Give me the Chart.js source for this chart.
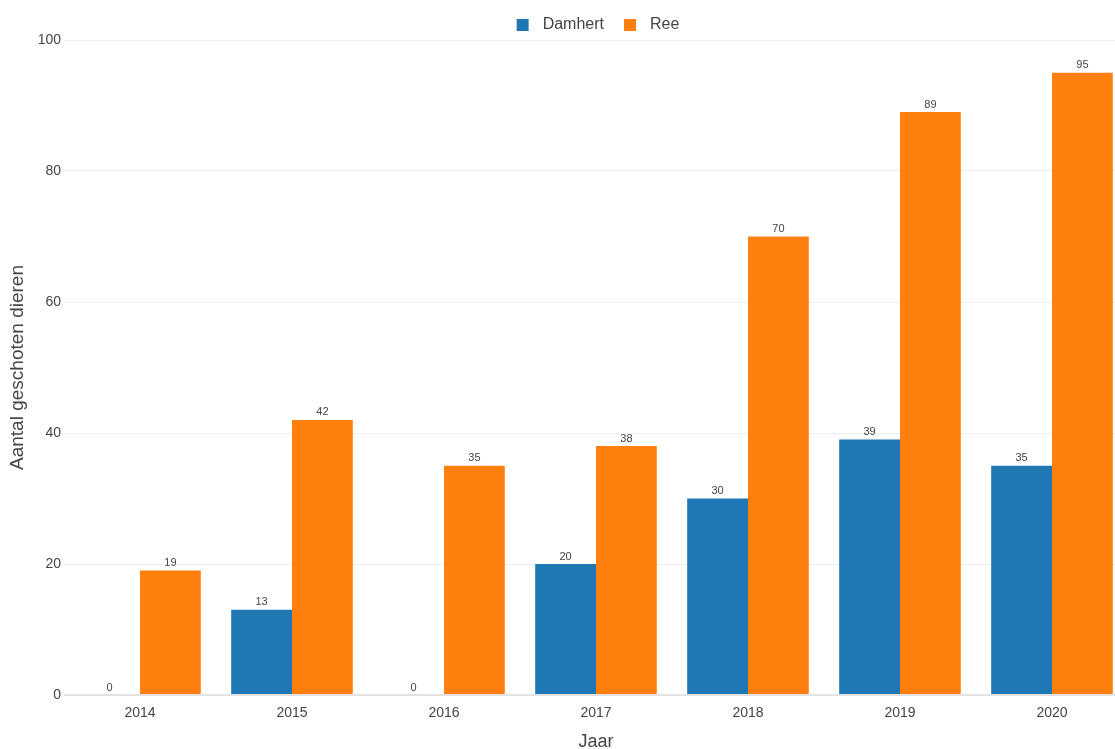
<!DOCTYPE html>
<html>
<head>
<meta charset="utf-8">
<script src="https://cdn.jsdelivr.net/npm/chart.js@4.4.1/dist/chart.umd.min.js"></script>
<style>
  html, body { margin: 0; padding: 0; background: #fff; overflow: hidden; }
  /* plot area runs past the right edge of the window, as in the reference */
  #wrap { width: 1128px; height: 749px; position: relative; }
</style>
</head>
<body>
<div id="wrap"><canvas id="jacht-chart"></canvas></div>
<script>
// data
const jaren = ['2014', '2015', '2016', '2017', '2018', '2019', '2020'];
const damhert = [0, 13, 0, 20, 30, 39, 35];
const ree = [19, 42, 35, 38, 70, 89, 95];
const yTicks = [0, 20, 40, 60, 80, 100];
const kleuren = ['#1f77b4', '#ff7f0e'];

const FONT = '"Liberation Sans", Arial, sans-serif';
const TEXT = '#444';

// value labels above every bar
const barLabels = {
  id: 'barLabels',
  afterDatasetsDraw(chart) {
    const ctx = chart.ctx;
    ctx.save();
    ctx.font = '11px ' + FONT;
    ctx.fillStyle = TEXT;
    ctx.textAlign = 'center';
    ctx.textBaseline = 'bottom';
    chart.data.datasets.forEach((ds, i) => {
      chart.getDatasetMeta(i).data.forEach((bar, j) => {
        ctx.fillText(ds.data[j], bar.x, bar.y - 2);
      });
    });
    ctx.restore();
  }
};

// legend: centred over the plot, wider spacing, small squares
const legendTweak = {
  id: 'legendTweak',
  afterInit(chart) {
    const legend = chart.legend;
    const fit = legend.fit.bind(legend);
    legend.fit = function () { fit(); this.height = 36; };
  },
  afterLayout(chart) {
    const legend = chart.legend;
    const dx = chart.chartArea.left / 2 + 2;
    const dy = -7;
    legend.left = chart.chartArea.left + 4;
    legend.top += dy;
    legend.legendHitBoxes.forEach(hb => { hb.left += dx; hb.top += dy; });
  },
  afterDraw(chart) {
    const ctx = chart.ctx;
    ctx.save();
    chart.legend.legendHitBoxes.forEach((hb, i) => {
      ctx.fillStyle = kleuren[i];
      ctx.fillRect(hb.left, hb.top + hb.height / 2 + 1, 12, 12);
    });
    ctx.restore();
  }
};

new Chart(document.getElementById('jacht-chart'), {
  type: 'bar',
  data: {
    labels: jaren,
    datasets: [
      {
        label: 'Damhert',
        data: damhert,
        backgroundColor: kleuren[0],
        borderWidth: 0,
        categoryPercentage: 0.8,
        barPercentage: 1.0
      },
      {
        label: 'Ree',
        data: ree,
        backgroundColor: kleuren[1],
        borderWidth: 0,
        categoryPercentage: 0.8,
        barPercentage: 1.0
      }
    ]
  },
  options: {
    responsive: true,
    maintainAspectRatio: false,
    animation: false,
    layout: { padding: { top: 4, right: 0, bottom: 0, left: 0 } },
    plugins: {
      legend: {
        position: 'top',
        labels: {
          font: { family: FONT, size: 16 },
          color: TEXT,
          boxWidth: 18,
          boxHeight: 12,
          padding: 20,
          generateLabels(chart) {
            return chart.data.datasets.map((ds, i) => ({
              text: ds.label,
              fillStyle: 'rgba(0,0,0,0)',
              strokeStyle: 'rgba(0,0,0,0)',
              lineWidth: 0,
              fontColor: TEXT,
              hidden: false,
              datasetIndex: i
            }));
          }
        }
      },
      tooltip: { enabled: false }
    },
    scales: {
      x: {
        grid: { display: false },
        border: { display: false },
        ticks: { font: { family: FONT, size: 14 }, color: TEXT, padding: 2 },
        title: {
          display: true,
          text: 'Jaar',
          font: { family: FONT, size: 18 },
          color: TEXT,
          padding: { top: 21, bottom: -4 }
        },
        afterFit(scale) { scale.height = 54; }
      },
      y: {
        min: 0,
        max: 100,
        afterBuildTicks(scale) { scale.ticks = yTicks.map(v => ({ value: v })); },
        border: { display: false },
        grid: {
          color: ctx => ctx.tick && ctx.tick.value === 0 ? '#e2e2e2' : '#eeeeee',
          lineWidth: ctx => ctx.tick && ctx.tick.value === 0 ? 2 : 1,
          drawTicks: false
        },
        ticks: { font: { family: FONT, size: 14 }, color: TEXT, padding: 3 },
        title: {
          display: true,
          text: 'Aantal geschoten dieren',
          font: { family: FONT, size: 19 },
          color: TEXT,
          padding: { top: 6, bottom: 4 }
        },
        afterFit(scale) { scale.width = 64; }
      }
    }
  },
  plugins: [barLabels, legendTweak]
});
</script>
</body>
</html>
